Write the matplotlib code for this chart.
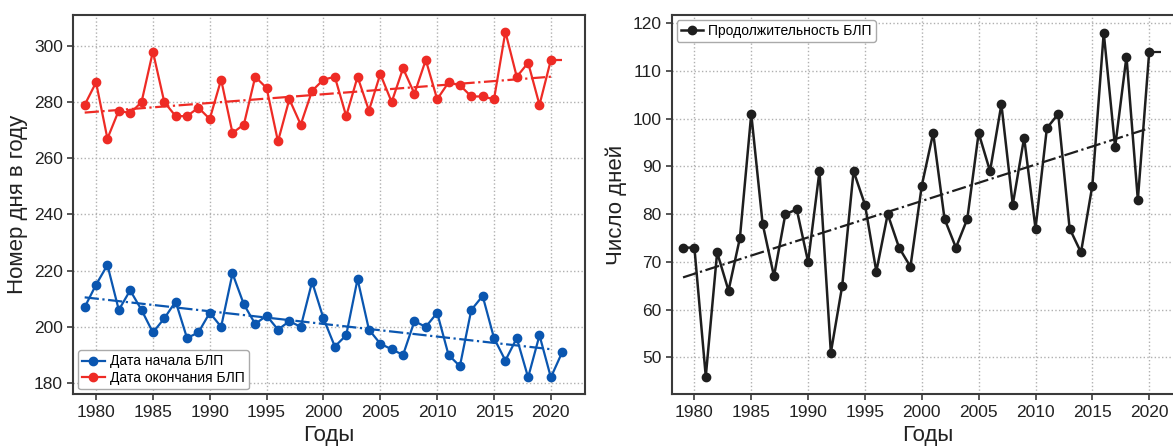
import numpy as np
import matplotlib.pyplot as plt

plt.rcParams['font.family'] = ['Liberation Sans', 'DejaVu Sans']

# годы наблюдений
years = list(range(1979, 2022))
# день начала БЛП (1979-2021)
start_day = [207, 215, 222, 206, 213, 206, 198, 203, 209, 196,
             198, 205, 200, 219, 208, 201, 204, 199, 202, 200,
             216, 203, 193, 197, 217, 199, 194, 192, 190, 202,
             200, 205, 190, 186, 206, 211, 196, 188, 196, 182,
             197, 182, 191]
# день окончания БЛП (1979-2020)
end_day = [279, 287, 267, 277, 276, 280, 298, 280, 275, 275,
           278, 274, 288, 269, 272, 289, 285, 266, 281, 272,
           284, 288, 289, 275, 289, 277, 290, 280, 292, 283,
           295, 281, 287, 286, 282, 282, 281, 305, 289, 294,
           279, 295]
# продолжительность БЛП (1979-2020)
duration = [73, 73, 46, 72, 64, 75, 101, 78, 67, 80,
            81, 70, 89, 51, 65, 89, 82, 68, 80, 73,
            69, 86, 97, 79, 73, 79, 97, 89, 103, 82,
            96, 77, 98, 101, 77, 72, 86, 118, 94, 113,
            83, 114]

BLUE = '#0a56b0'
RED = '#ee2b25'
BLACK = '#1e1e1e'


def trend(x, y):
    k, b = np.polyfit(x, y, 1)
    return np.polyval([k, b], x)


def style_axes(ax):
    for s in ax.spines.values():
        s.set_color('#3a3a3a')
        s.set_linewidth(1.5)
    ax.grid(True, linestyle=':', color='#b0b0b0', linewidth=1.0)
    ax.tick_params(axis='both', labelsize=12.5, length=4, width=1.2,
                   color='#3a3a3a', labelcolor='#222222')
    ax.set_xlim(1978, 2023)
    ax.set_xticks(range(1980, 2021, 5))
    ax.set_xlabel('Годы', fontsize=16, color='#222222')


fig = plt.figure(figsize=(11.73, 4.46), dpi=100)
ax1 = fig.add_axes([0.0625, 0.116, 0.4362, 0.8504])
ax2 = fig.add_axes([0.5726, 0.116, 0.4362, 0.8504])

# левая панель: даты начала и окончания
yrs_end = years[:len(end_day)]
ax1.plot(years, start_day, '-o', color=BLUE, lw=1.6, ms=6, label='Дата начала БЛП')
ax1.plot(yrs_end, end_day, '-o', color=RED, lw=1.6, ms=6, label='Дата окончания БЛП')
ax1.plot([yrs_end[-1], years[-1]], [end_day[-1], end_day[-1]], '-.', color=RED, lw=1.6)
ax1.plot(yrs_end, trend(yrs_end, start_day[:len(end_day)]), '-.', color=BLUE, lw=1.6)
ax1.plot(yrs_end, trend(yrs_end, end_day), '-.', color=RED, lw=1.6)
ax1.set_ylim(176, 311)
ax1.set_yticks(range(180, 301, 20))
ax1.set_ylabel('Номер дня в году', fontsize=16, color='#222222')
style_axes(ax1)
ax1.legend(loc='lower left', fontsize=10, borderpad=0.3, labelspacing=0.2,
           handlelength=1.6, handletextpad=0.4, borderaxespad=0.35,
           edgecolor='#aaaaaa', framealpha=1)

# правая панель: продолжительность
ax2.plot(yrs_end, duration, '-o', color=BLACK, lw=1.8, ms=6, label='Продолжительность БЛП')
ax2.plot([yrs_end[-1], years[-1]], [duration[-1], duration[-1]], '-.', color=BLACK, lw=1.6)
ax2.plot(yrs_end, trend(yrs_end, duration), '-.', color=BLACK, lw=1.6)
ax2.set_ylim(42.3, 121.7)
ax2.set_yticks(range(50, 121, 10))
ax2.set_ylabel('Число дней', fontsize=16, color='#222222')
style_axes(ax2)
ax2.legend(loc='upper left', fontsize=10, borderpad=0.3, handlelength=1.6,
           handletextpad=0.4, borderaxespad=0.35, edgecolor='#aaaaaa', framealpha=1)

fig.savefig('out.png', dpi=100)
plt.close(fig)
